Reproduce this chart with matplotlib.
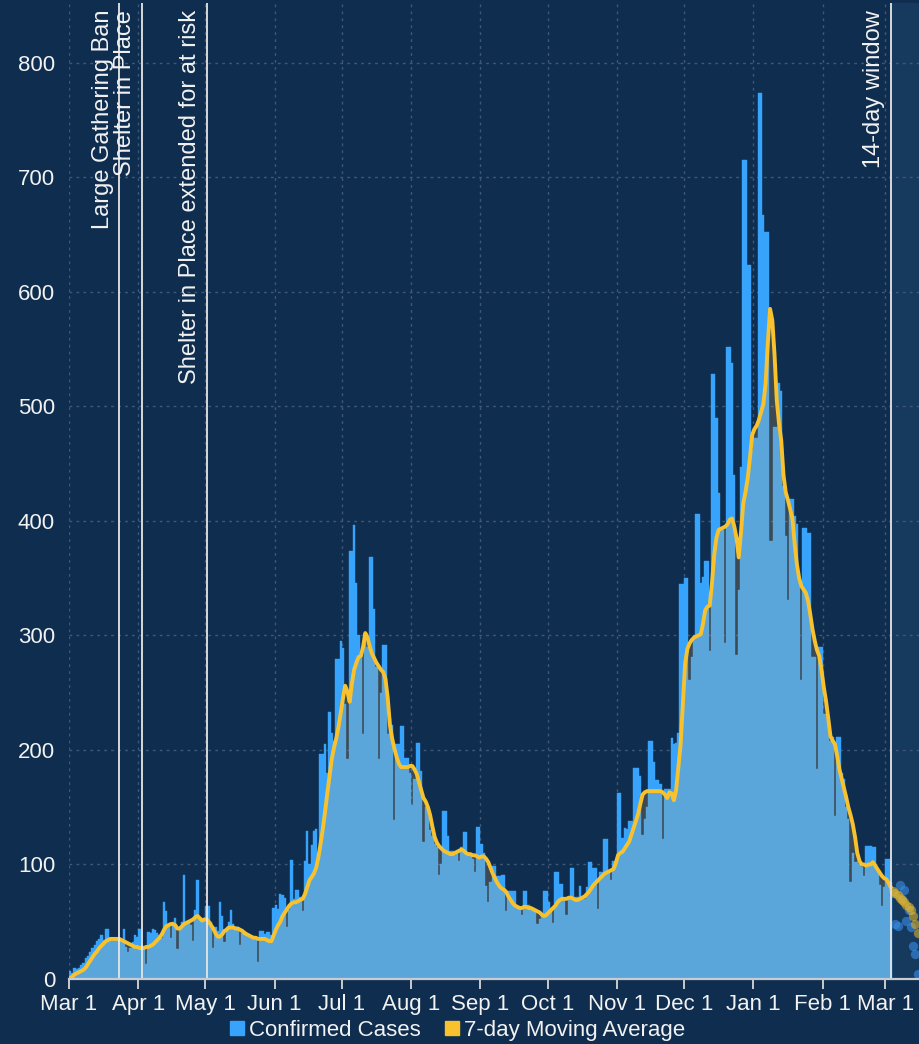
import matplotlib
matplotlib.use('Agg')
import matplotlib.pyplot as plt
from matplotlib.lines import Line2D
import numpy as np
import pandas as pd

plt.rcParams['font.family'] = ['Liberation Sans', 'DejaVu Sans']

start = pd.Timestamp('2020-03-01')

# daily confirmed cases, Mar 1 2020 .. Mar 3 2021
cases_mar = [7, 5, 10, 9, 10, 12, 14, 18, 20, 24, 27, 30, 33, 35, 38, 34, 44, 44, 36, 34,
             35, 36, 34, 35, 44, 28, 24, 27, 32, 38, 37]
cases_apr = [44, 30, 28, 13, 41, 40, 44, 43, 40, 38, 36, 67, 59, 48, 36, 50, 53, 26, 45, 50,
             91, 48, 51, 47, 33, 60, 86, 52, 51, 52]
cases_may = [64, 64, 50, 27, 45, 42, 67, 55, 32, 45, 50, 60, 48, 45, 45, 30, 40, 42, 40, 37,
             36, 35, 34, 15, 42, 42, 39, 41, 41, 38, 62]
cases_jun = [65, 61, 74, 73, 71, 45, 60, 104, 70, 78, 78, 72, 59, 103, 129, 100, 117, 129, 131, 110,
             196, 196, 205, 180, 233, 215, 208, 279, 279, 295]
cases_jul = [289, 240, 192, 374, 374, 396, 346, 300, 285, 214, 300, 290, 368, 368, 323, 272, 192, 250,
             292, 292, 214, 228, 222, 139, 205, 205, 221, 221, 193, 193, 180]
cases_aug = [152, 175, 206, 206, 182, 120, 150, 147, 130, 125, 118, 115, 91, 100, 147, 147, 125, 112,
             112, 108, 110, 103, 115, 128, 128, 109, 109, 105, 93, 133, 133]
cases_sep = [118, 110, 81, 67, 85, 99, 99, 90, 90, 91, 91, 59, 77, 77, 77, 77, 64, 62, 56, 77,
             77, 65, 62, 62, 61, 48, 52, 58, 77, 77]
cases_oct = [67, 62, 49, 93, 93, 83, 83, 71, 56, 70, 97, 97, 72, 72, 81, 70, 70, 80, 102, 102,
             97, 97, 61, 93, 93, 122, 122, 93, 86, 103, 103]
cases_nov = [162, 162, 123, 132, 131, 138, 138, 184, 184, 184, 177, 126, 140, 150, 208, 208, 189, 174,
             174, 170, 122, 166, 166, 166, 210, 205, 206, 215, 345, 345]
cases_dec = [350, 350, 261, 281, 300, 406, 406, 346, 351, 365, 365, 286, 528, 528, 490, 424, 392, 392,
             293, 552, 552, 538, 440, 283, 340, 447, 715, 715, 623, 623, 462]
cases_jan = [472, 472, 773, 773, 667, 652, 652, 382, 382, 482, 482, 520, 513, 430, 387, 331, 419, 419,
             404, 397, 350, 261, 394, 394, 389, 389, 281, 281, 183, 290, 290]
cases_feb = [231, 231, 225, 208, 211, 142, 211, 211, 180, 175, 150, 140, 85, 110, 102, 102, 100, 98,
             90, 116, 116, 116, 115, 115, 95, 82, 64, 80]
cases_mar21 = [105, 105, 85]

# 7-day moving average as drawn
ma_mar = [1, 2, 4, 5, 6, 7, 8, 10, 13, 16, 19, 22, 24, 27, 29, 31, 33, 34, 35, 35,
          35, 35, 35, 34, 33, 32, 31, 30, 29, 28, 28]
ma_apr = [27, 27, 27, 28, 28, 29, 30, 32, 34, 36, 39, 43, 46, 47, 48, 48, 47, 44, 44, 46,
          48, 49, 50, 51, 52, 54, 55, 53, 51, 52]
ma_may = [52, 50, 47, 44, 40, 37, 37, 39, 42, 43, 45, 45, 45, 44, 44, 43, 42, 40, 39, 38,
          37, 36, 36, 35, 35, 35, 35, 34, 33, 33, 38]
ma_jun = [43, 47, 50, 55, 58, 61, 64, 66, 67, 67, 68, 69, 70, 74, 80, 86, 89, 92, 97, 106,
          118, 131, 146, 162, 177, 192, 202, 210, 220, 232]
ma_jul = [245, 256, 251, 242, 258, 270, 276, 281, 282, 290, 302, 298, 290, 284, 280, 276, 273, 270,
          268, 262, 246, 222, 210, 201, 194, 188, 185, 185, 185, 185, 186]
ma_aug = [186, 183, 179, 172, 165, 158, 155, 150, 143, 133, 124, 119, 116, 114, 112, 111, 110, 109,
          109, 110, 111, 112, 113, 112, 110, 109, 109, 108, 108, 107, 106]
ma_sep = [107, 107, 105, 102, 97, 92, 88, 84, 81, 79, 78, 76, 72, 69, 66, 64, 63, 62, 62, 63,
          63, 62, 62, 61, 60, 59, 58, 56, 55, 56]
ma_oct = [58, 60, 62, 64, 67, 69, 70, 70, 70, 71, 71, 70, 69, 69, 70, 71, 72, 74, 76, 79,
          82, 84, 86, 88, 90, 92, 93, 94, 95, 96, 101]
ma_nov = [108, 110, 111, 114, 117, 120, 126, 132, 138, 144, 153, 161, 163, 164, 164, 164, 164, 164,
          164, 164, 163, 161, 158, 163, 162, 156, 165, 185, 205, 240]
ma_dec = [275, 288, 293, 296, 298, 299, 300, 301, 310, 322, 325, 326, 345, 370, 385, 392, 393, 394,
          395, 397, 401, 402, 395, 385, 368, 390, 415, 425, 437, 455, 475]
ma_jan = [480, 483, 488, 495, 502, 520, 555, 585, 575, 545, 505, 485, 470, 440, 425, 418, 410, 402,
          380, 362, 350, 343, 340, 337, 330, 318, 305, 295, 287, 282, 270]
ma_feb = [255, 243, 228, 212, 208, 205, 195, 183, 175, 167, 159, 150, 143, 135, 124, 110, 103, 100,
          100, 99, 100, 100, 102, 99, 96, 93, 90, 88]
ma_mar21 = [87, 84, 80]

# last 14 days (incomplete data), drawn as dots
tail_cases = [75, 48, 46, 82, 70, 78, 51, 60, 45, 29, 22, 4]
tail_ma = [77, 75, 73, 71, 69, 67, 65, 63, 60, 55, 48, 40]

month_ticks = ['2020-03-01', '2020-04-01', '2020-05-01', '2020-06-01', '2020-07-01', '2020-08-01',
               '2020-09-01', '2020-10-01', '2020-11-01', '2020-12-01', '2021-01-01', '2021-02-01',
               '2021-03-01']
month_labels = ['Mar 1', 'Apr 1', 'May 1', 'Jun 1', 'Jul 1', 'Aug 1', 'Sep 1', 'Oct 1', 'Nov 1',
                'Dec 1', 'Jan 1', 'Feb 1', 'Mar 1']

event_dates = ['2020-03-23', '2020-04-02', '2020-05-01', '2021-03-03']
event_labels = ['Large Gathering Ban', 'Shelter in Place', 'Shelter in Place extended for at risk',
                '14-day window']

cases = np.array(cases_mar + cases_apr + cases_may + cases_jun + cases_jul + cases_aug + cases_sep
                 + cases_oct + cases_nov + cases_dec + cases_jan + cases_feb + cases_mar21)
ma = np.array(ma_mar + ma_apr + ma_may + ma_jun + ma_jul + ma_aug + ma_sep + ma_oct + ma_nov
              + ma_dec + ma_jan + ma_feb + ma_mar21)
days = np.arange(len(cases))
tail_days = np.arange(len(cases), len(cases) + len(tail_cases))

tick_days = (pd.to_datetime(month_ticks) - start).days
event_days = (pd.to_datetime(event_dates) - start).days + 0.5

bg = '#0f2d4e'
fig = plt.figure(figsize=(9.19, 10.44), dpi=100, facecolor=bg)
ax = fig.add_axes([69 / 919, 1 - 979 / 1044, 1 - 69 / 919, (979 - 3) / 1044])
ax.set_facecolor(bg)

ax.axvspan(event_days[-1], 400, color='#16395e', zorder=0, lw=0)

ax.bar(days, cases, width=1, align='edge', color='#37a3fb', edgecolor='#37a3fb', linewidth=0.3,
       zorder=2)
ax.fill_between(days + 0.5, 0, ma, color='#d8b26a', alpha=0.22, lw=0, zorder=3)
ax.plot(days + 0.5, ma, color='#f8c22e', lw=2.8, zorder=4, solid_joinstyle='round')

ax.scatter(tail_days + 0.5, tail_cases, s=45, color='#3a8ee6', alpha=0.6, lw=0, zorder=4)
ax.scatter(tail_days + 0.5, tail_ma, s=45, color='#d9b030', alpha=0.6, lw=0, zorder=4)

for d, lab in zip(event_days, event_labels):
    ax.axvline(d, color='#e6e6e6', lw=1.3, zorder=5)
    ax.annotate(lab, xy=(d, 1), xycoords=('data', 'axes fraction'), xytext=(-4, -5),
                textcoords='offset points', rotation=90, ha='right', va='top',
                color='#f2f2f2', fontsize=17, zorder=6)

ax.set_xlim(0, 380.1)
ax.set_ylim(0, 852)
ax.set_xticks(tick_days)
ax.set_xticklabels(month_labels)
ax.set_yticks(np.arange(0, 801, 100))

ax.grid(True, color='#3f5878', linestyle=(0, (2, 3)), lw=1)
ax.set_axisbelow(True)

for s in ['top', 'right', 'left']:
    ax.spines[s].set_visible(False)
ax.spines['bottom'].set_color('#c8ccd2')
ax.spines['bottom'].set_linewidth(1.6)
ax.spines['bottom'].set_zorder(6)

ax.tick_params(axis='x', colors='#c8ccd2', length=7, width=1.4, pad=4, labelsize=16,
               labelcolor='#f2f2f2')
ax.tick_params(axis='y', length=0, pad=10, labelsize=16, labelcolor='#f2f2f2')

handles = [Line2D([], [], marker='s', ls='none', color='#37a3fb', markersize=10),
           Line2D([], [], marker='s', ls='none', color='#f8c22e', markersize=10)]
leg = fig.legend(handles, ['Confirmed Cases', '7-day Moving Average'], loc='lower center',
                 bbox_to_anchor=(0.496, 0.001), ncol=2, frameon=False, fontsize=16,
                 handletextpad=0.05, columnspacing=0.9, handlelength=1.0, borderpad=0.1,
                 borderaxespad=0.0)
for t in leg.get_texts():
    t.set_color('#f2f2f2')

fig.savefig('out.png', dpi=100, facecolor=bg)
